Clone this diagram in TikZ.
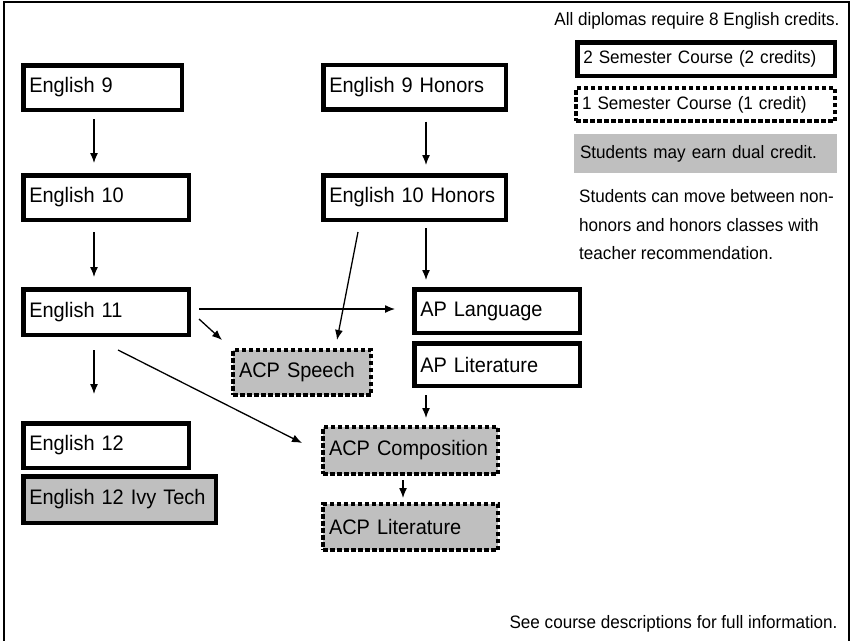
\documentclass[tikz,border=0pt]{standalone}
\usepackage{fontspec}
\setmainfont[FakeStretch=0.95]{Liberation Sans}
\usetikzlibrary{arrows.meta}

\begin{document}
\begin{tikzpicture}[x=1pt,y=-1pt,
    course/.style={draw, line width=4.5pt, minimum height=44.5pt, inner xsep=6pt,
        align=left, font=\fontsize{21}{24}\selectfont},
    semcourse/.style={course, fill=black!25, line width=4pt, dash pattern=on 4.5pt off 2.5pt},
    legend/.style={font=\fontsize{18}{20}\selectfont},
    arr/.style={-{Latex[length=10pt,width=8pt]}, line width=1.3pt}]
    \useasboundingbox (0,0) rectangle (853,640);
    % Draw frame
    \draw[line width=1.5pt] (4,645) -- (4,2) -- (849,2) -- (849,645);

    % Standard track
    \node[course, text width=146.5pt] (e9) at (102.5,87.5) {English 9};
    \node[course, text width=153.5pt] (e10) at (106,197.5) {English 10};
    \node[course, text width=153.5pt, minimum height=45.5pt] (e11) at (106,312) {English 11};
    \node[course, text width=153.5pt] (e12) at (106,445.5) {English 12};
    \node[course, fill=black!25, text width=180.5pt, minimum height=46.5pt] (ivy) at (119.5,499.5) {English 12 Ivy Tech};

    % Honors track
    \node[course, text width=170.5pt] (e9h) at (414.5,87) {English 9 Honors};
    \node[course, text width=170.5pt] (e10h) at (414.5,197.5) {English 10 Honors};
    \node[course, text width=153.5pt, minimum height=43.5pt] (aplang) at (497,311) {AP Language};
    \node[course, text width=153.5pt, minimum height=42.5pt] (aplit) at (497,364.5) {AP Literature};

    % Dual credit
    \node[semcourse, text width=126pt, minimum height=45pt] (speech) at (302,372.5) {ACP Speech};
    \node[semcourse, text width=163pt, minimum height=47pt] (comp) at (410.5,450.5) {ACP Composition};
    \node[semcourse, text width=163pt, minimum height=46pt] (acplit) at (410.5,527) {ACP Literature};

    % Draw arrows
    \coordinate (lcol) at (94,0);
    \coordinate (rcol) at (426,0);
    \draw[arr, shorten <=7pt, shorten >=10pt] (e9.south -| lcol) -- (e10.north -| lcol);
    \draw[arr, shorten <=10pt, shorten >=10pt] (e10.south -| lcol) -- (e11.north -| lcol);
    \draw[arr, shorten <=13pt, shorten >=27pt] (e11.south -| lcol) -- (e12.north -| lcol);
    \draw[arr, shorten <=10pt, shorten >=8pt] (e9h.south -| rcol) -- (e10h.north -| rcol);
    \draw[arr, shorten <=6pt, shorten >=7pt] (e10h.south -| rcol) -- (aplang.north -| rcol);
    \draw[arr, shorten <=7pt, shorten >=7pt] (aplit.south -| rcol) -- (comp.north -| rcol);
    \draw[arr, shorten <=4pt, shorten >=4pt] ([xshift=-7.5pt]comp.south) -- ([xshift=-7.5pt]acplit.north);
    \draw[arr, shorten <=8pt, shorten >=17pt] ([yshift=3pt]e11.east) -- ([yshift=3pt]e11.east -| aplang.west);
    \draw[arr] ([shift={(8,-18)}]e11.south east) -- ([shift={(-9,-8)}]speech.north west);
    \draw[arr] ([shift={(12,13)}]e11.south) -- ([shift={(-19,-7.5)}]comp.west);
    \draw[arr] ([shift={(-56.5,10)}]e10h.south) -- ([shift={(35,-8)}]speech.north);

    % Legend
    \node[legend, anchor=base east] (req) at (843,25) {All diplomas require 8 English credits.};
    \node[course, legend, text width=245.5pt, minimum height=33.5pt] (twosem) at (706,59) {2 Semester Course (2 credits)};
    \node[semcourse, legend, fill=none, text width=247pt, minimum height=33pt] (onesem) at (705.5,104.5) {1 Semester Course (1 credit)};
    \node[legend, fill=black!25, inner xsep=6pt, text width=251pt, minimum height=39pt, align=left] (dual) at (705.5,153.5) {Students may earn dual credit.};
    \node[legend, anchor=north west, inner sep=0pt, align=left, font=\fontsize{18}{28.5}\selectfont] (move) at (579,189.5)
        {Students can move between non-\\honors and honors classes with\\teacher recommendation.};
    \node[legend, anchor=base east] (info) at (841,628) {See course descriptions for full information.};

\end{tikzpicture}
\end{document}
